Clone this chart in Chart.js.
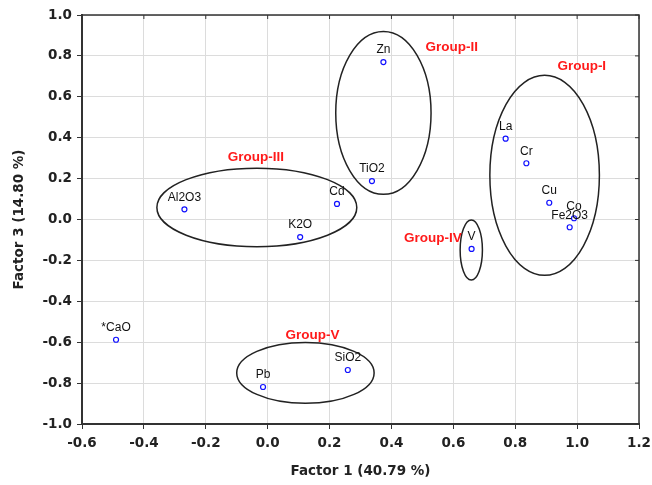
<!DOCTYPE html>
<html>
<head>
<meta charset="utf-8">
<script src="https://cdn.jsdelivr.net/npm/chart.js@4/dist/chart.umd.min.js"></script>
<style>
  html, body { margin: 0; padding: 0; background: #fff; }
  #wrap { width: 652px; height: 485px; position: relative; }
</style>
</head>
<body>
<div id="wrap"><canvas id="chart"></canvas></div>
<script>
// Variables (loadings on factor 1 and factor 3)
const elements = ['Zn', 'TiO2', 'Cd', 'La', 'Cr', 'Cu', 'Co', 'Fe2O3', 'V', 'SiO2', 'Pb', '*CaO', 'Al2O3', 'K2O'];
const factor1 = [0.374, 0.337, 0.224, 0.769, 0.836, 0.910, 0.990, 0.976, 0.659, 0.259, -0.015, -0.490, -0.269, 0.105];
const factor3 = [0.770, 0.188, 0.076, 0.395, 0.275, 0.082, 0.006, -0.038, -0.144, -0.736, -0.819, -0.588, 0.050, -0.086];

// Group ellipses (centre and radii in data units) and their captions
const groupNames = ['Group-I', 'Group-II', 'Group-III', 'Group-IV', 'Group-V'];
const ellipseCx = [0.895, 0.374, -0.035, 0.658, 0.122];
const ellipseCy = [0.216, 0.521, 0.059, -0.149, -0.750];
const ellipseRx = [0.177, 0.154, 0.323, 0.036, 0.222];
const ellipseRy = [0.489, 0.398, 0.192, 0.147, 0.149];
const groupLabelX = [1.015, 0.595, -0.038, 0.534, 0.145];
const groupLabelY = [0.747, 0.840, 0.306, -0.090, -0.565];

const fmt = v => (Math.abs(v) < 1e-9 ? 0 : v).toFixed(1);
const FONT = "'Liberation Sans', Arial, sans-serif";
const WIDE = "'DejaVu Sans', Verdana, sans-serif";

// ellipses + frame + point/group labels
const overlayPlugin = {
    id: 'overlay',
    beforeDatasetsDraw(chart) {
        const { ctx, scales: { x, y } } = chart;
        ctx.save();
        ctx.strokeStyle = '#222';
        ctx.lineWidth = 1.5;
        groupNames.forEach((g, i) => {
            const cx = x.getPixelForValue(ellipseCx[i]);
            const cy = y.getPixelForValue(ellipseCy[i]);
            const rx = Math.abs(x.getPixelForValue(ellipseCx[i] + ellipseRx[i]) - cx);
            const ry = Math.abs(y.getPixelForValue(ellipseCy[i] + ellipseRy[i]) - cy);
            ctx.beginPath();
            ctx.ellipse(cx, cy, rx, ry, 0, 0, Math.PI * 2);
            ctx.stroke();
        });
        ctx.restore();
    },
    afterDatasetsDraw(chart) {
        const { ctx, chartArea: a, scales: { x, y } } = chart;
        ctx.save();

        // top / right frame with inward ticks
        ctx.strokeStyle = '#333';
        ctx.lineWidth = 1.5;
        ctx.beginPath();
        ctx.moveTo(a.left, a.top);
        ctx.lineTo(a.right, a.top);
        ctx.lineTo(a.right, a.bottom);
        ctx.stroke();
        ctx.lineWidth = 1;
        ctx.beginPath();
        x.ticks.forEach(t => {
            const px = x.getPixelForValue(t.value);
            ctx.moveTo(px, a.top);
            ctx.lineTo(px, a.top + 4);
        });
        y.ticks.forEach(t => {
            const py = y.getPixelForValue(t.value);
            ctx.moveTo(a.right, py);
            ctx.lineTo(a.right - 4, py);
        });
        ctx.stroke();

        // element names
        ctx.font = `12px ${FONT}`;
        ctx.fillStyle = '#111';
        ctx.textAlign = 'center';
        ctx.textBaseline = 'middle';
        elements.forEach((name, i) => {
            ctx.fillText(name, x.getPixelForValue(factor1[i]), y.getPixelForValue(factor3[i]) - 12);
        });

        // group captions
        ctx.font = `bold 13.5px ${FONT}`;
        ctx.fillStyle = '#ff1a1a';
        groupNames.forEach((g, i) => {
            ctx.fillText(g, x.getPixelForValue(groupLabelX[i]), y.getPixelForValue(groupLabelY[i]));
        });
        ctx.restore();
    }
};

const axisFont = { family: WIDE, size: 13.5, weight: 'bold' };

new Chart(document.getElementById('chart'), {
    type: 'scatter',
    data: {
        labels: elements,
        datasets: [{
            data: factor1.map((v, i) => ({ x: v, y: factor3[i] })),
            pointStyle: 'circle',
            pointRadius: 2.5,
            pointBorderWidth: 1.2,
            borderColor: '#1010ff',
            backgroundColor: '#fff'
        }]
    },
    options: {
        responsive: true,
        maintainAspectRatio: false,
        animation: false,
        layout: { padding: { left: 0, top: 15, right: 0, bottom: 0 } },
        plugins: { legend: { display: false }, tooltip: { enabled: false } },
        scales: {
            x: {
                type: 'linear',
                min: -0.6,
                max: 1.2,
                afterFit: s => { s.height = 61; s.paddingRight = 13; s.paddingLeft = 0; },
                ticks: { stepSize: 0.2, callback: fmt, color: '#222', font: axisFont, padding: 6, maxRotation: 0 },
                grid: { color: '#dcdcdc', tickColor: '#333', tickLength: 5 },
                border: { color: '#333', width: 2 },
                title: { display: true, text: 'Factor 1 (40.79 %)', color: '#222', font: axisFont, padding: { top: 5, bottom: 5 } }
            },
            y: {
                type: 'linear',
                min: -1,
                max: 1,
                afterFit: s => { s.width = 82; },
                ticks: { stepSize: 0.2, callback: fmt, color: '#222', font: axisFont, padding: 5 },
                grid: { color: '#dcdcdc', tickColor: '#333', tickLength: 5 },
                border: { color: '#333', width: 2 },
                title: { display: true, text: 'Factor 3 (14.80 %)', color: '#222', font: axisFont, padding: { top: 11, bottom: 11 } }
            }
        }
    },
    plugins: [overlayPlugin]
});
</script>
</body>
</html>
